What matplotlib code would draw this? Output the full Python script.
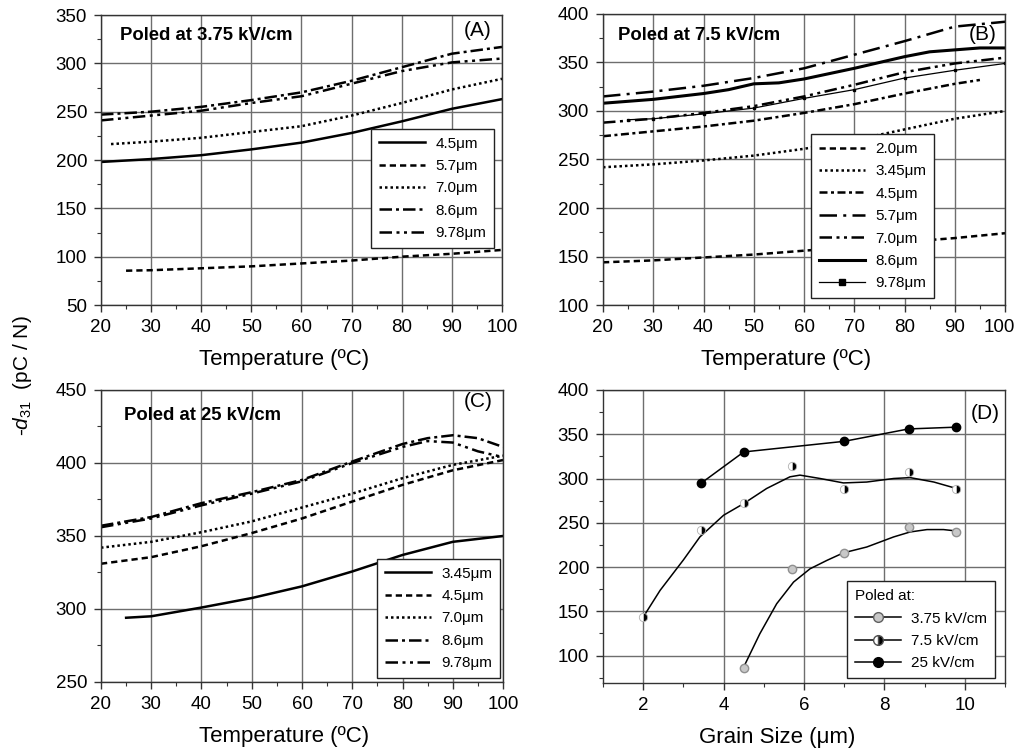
import matplotlib
matplotlib.use('Agg')
import matplotlib.pyplot as plt
import matplotlib.transforms as mtransforms
from matplotlib.ticker import MultipleLocator

plt.rcParams['font.family'] = ['Liberation Sans', 'DejaVu Sans']
plt.rcParams['mathtext.fontset'] = 'custom'
plt.rcParams['mathtext.it'] = 'Liberation Sans:italic'
plt.rcParams['mathtext.rm'] = 'Liberation Sans'

# --- Panel A: poled at 3.75 kV/cm ---
temp = [20, 30, 40, 50, 60, 70, 80, 90, 100]
a_45 = [198, 201, 205, 211, 218, 228, 240, 253, 263]
a_57_t = [25, 30, 40, 50, 60, 70, 80, 90, 100]
a_57 = [85.5, 86, 88, 90, 93, 96, 100, 103, 107]
a_70_t = [22, 30, 40, 50, 60, 70, 80, 90, 100]
a_70 = [216.5, 219, 223, 229, 235, 246, 259, 273, 284]
a_86 = [247, 250, 255, 262, 270, 282, 296, 310, 317]
a_978 = [241, 246, 251, 259, 266, 279, 292, 301, 305]

# --- Panel B: poled at 7.5 kV/cm ---
b_20 = [144, 146, 149, 152, 156, 160, 165, 169, 174]
b_345 = [242, 245, 249, 254, 261, 270, 281, 292, 300]
b_45_t = [20, 30, 40, 50, 60, 70, 80, 90, 95]
b_45 = [274, 279, 284, 290, 298, 307, 318, 328, 332]
b_57 = [315, 320, 326, 334, 344, 358, 372, 387, 392]
b_70 = [288, 292, 298, 305, 315, 327, 340, 349, 355]
b_86_t = [20, 30, 40, 45, 50, 55, 60, 70, 80, 85, 90, 95, 100]
b_86 = [308, 312, 318, 322, 328, 329, 333, 344, 356, 361, 363, 365, 365]
b_978_t = [25, 30, 40, 50, 60, 70, 80, 90, 100]
b_978 = [291, 292, 297, 303, 313, 322, 334, 342, 349]

# --- Panel C: poled at 25 kV/cm ---
c_345_t = [25, 30, 40, 50, 60, 70, 80, 90, 100]
c_345 = [294, 295, 301, 307.5, 315.5, 325.7, 337, 346, 350]
c_45 = [331, 335.5, 343, 352, 362, 373.6, 385, 395, 402]
c_70 = [342, 346, 352.6, 360, 369.5, 379, 389.6, 398.7, 405]
c_86_t = [20, 30, 40, 50, 60, 70, 80, 85, 90, 95, 100]
c_86 = [357, 363, 372.5, 380, 388.4, 401, 413, 417, 419, 417, 411]
c_978_t = [20, 30, 40, 50, 60, 70, 80, 85, 90, 95, 100]
c_978 = [356, 362, 371, 379, 387.5, 400, 411, 415, 414, 408, 404]

# --- Panel D: d31 vs grain size ---
g_375 = [4.5, 5.7, 7.0, 8.6, 9.78]
d_375 = [86, 198, 216, 245, 240]
g_75 = [2.0, 3.45, 4.5, 5.7, 7.0, 8.6, 9.78]
d_75 = [144, 242, 272, 314, 288, 307, 288]
g_25 = [3.45, 4.5, 7.0, 8.6, 9.78]
d_25 = [295, 330, 342, 356, 358]
# smoothed fit curves as drawn in the figure
fit_375_x = [4.5, 4.9, 5.32, 5.74, 6.15, 6.57, 6.98, 7.56, 8.23, 8.64, 9.06, 9.47, 9.77]
fit_375_y = [87, 124.5, 158.5, 183, 198, 207.5, 216, 222.6, 234, 239.6, 242.3, 242.3, 240.8]
fit_75_x = [2.0, 2.42, 3.0, 3.41, 4.0, 4.5, 5.07, 5.65, 5.9, 6.4, 6.98, 7.56, 8.23, 8.64, 9.23, 9.77]
fit_75_y = [143.4, 173.6, 208, 234, 258.5, 271.7, 288.7, 301.9, 303.8, 300, 295, 296, 300, 301, 296, 289]

DASH = (0, (2.5, 1.6))
DOT = (0, (1, 1.2))
DASHDOT = (0, (5, 1.6, 1.2, 1.6))
DASHDOTDOT = (0, (5, 1.8, 1.2, 1.8, 1.2, 1.8))
DASHDOT_SHORT = (0, (3.2, 1.4, 1.2, 1.4))
DASHDOT_LONG = (0, (7, 2.5, 1.2, 2.5))

fig = plt.figure(figsize=(10.16, 7.52), dpi=100)
axA = fig.add_axes([0.0994, 0.5944, 0.3947, 0.3856])
axB = fig.add_axes([0.5935, 0.5944, 0.3957, 0.3870])
axC = fig.add_axes([0.0994, 0.0931, 0.3957, 0.3883])
axD = fig.add_axes([0.5935, 0.0918, 0.3957, 0.3896])

lw = 1.8
k = 'black'

axA.plot(temp, a_45, color=k, lw=lw, label='4.5\u03bcm')
axA.plot(a_57_t, a_57, color=k, lw=lw, ls=DASH, label='5.7\u03bcm')
axA.plot(a_70_t, a_70, color=k, lw=lw, ls=DOT, label='7.0\u03bcm')
axA.plot(temp, a_86, color=k, lw=lw, ls=DASHDOT, label='8.6\u03bcm')
axA.plot(temp, a_978, color=k, lw=lw, ls=DASHDOTDOT, label='9.78\u03bcm')

axB.plot(temp, b_20, color=k, lw=lw, ls=DASH, label='2.0\u03bcm')
axB.plot(temp, b_345, color=k, lw=lw, ls=DOT, label='3.45\u03bcm')
axB.plot(b_45_t, b_45, color=k, lw=lw, ls=DASHDOT_SHORT, label='4.5\u03bcm')
axB.plot(temp, b_57, color=k, lw=lw, ls=DASHDOT_LONG, label='5.7\u03bcm')
axB.plot(temp, b_70, color=k, lw=lw, ls=DASHDOTDOT, label='7.0\u03bcm')
axB.plot(b_86_t, b_86, color=k, lw=2.2, label='8.6\u03bcm')
axB.plot(b_978_t, b_978, color=k, lw=0.9, marker='s', ms=2, label='9.78\u03bcm')

axC.plot(c_345_t, c_345, color=k, lw=lw, label='3.45\u03bcm')
axC.plot(temp, c_45, color=k, lw=lw, ls=DASH, label='4.5\u03bcm')
axC.plot(temp, c_70, color=k, lw=lw, ls=DOT, label='7.0\u03bcm')
axC.plot(c_86_t, c_86, color=k, lw=lw, ls=DASHDOT, label='8.6\u03bcm')
axC.plot(c_978_t, c_978, color=k, lw=lw, ls=DASHDOTDOT, label='9.78\u03bcm')

# panel D: fit lines + markers
axD.plot(fit_375_x, fit_375_y, color=k, lw=1.1, zorder=2)
axD.plot(fit_75_x, fit_75_y, color=k, lw=1.1, zorder=2)
axD.plot(g_25, d_25, color=k, lw=1.1, zorder=2)
axD.plot(g_375, d_375, ls='none', marker='o', ms=6, mfc='#c8c8c8', mec='#909090', zorder=3)
axD.plot(g_75, d_75, ls='none', marker='o', ms=6, fillstyle='right', mfc='black',
         mfcalt='white', mec='#b0b0b0', mew=0.6, zorder=3)
axD.plot(g_25, d_25, ls='none', marker='o', ms=6, mfc='black', mec='black', zorder=3)
# legend proxies
axD.plot([], [], color=k, lw=1.1, marker='o', ms=7, mfc='#c8c8c8', mec='#606060', label='3.75 kV/cm')
axD.plot([], [], color=k, lw=1.1, marker='o', ms=7, fillstyle='right', mfc='black',
         mfcalt='white', mec='#505050', label='7.5 kV/cm')
axD.plot([], [], color=k, lw=1.1, marker='o', ms=7, mfc='black', mec='black', label='25 kV/cm')

for ax in (axA, axB, axC):
    ax.set_xlim(20, 100)
    ax.xaxis.set_major_locator(MultipleLocator(10))
    ax.xaxis.set_minor_locator(MultipleLocator(5))
    ax.yaxis.set_major_locator(MultipleLocator(50))
    ax.yaxis.set_minor_locator(MultipleLocator(25))
    ax.set_xlabel('Temperature (\u00baC)', fontsize=16)
    ax.xaxis.set_label_coords(0.456, -0.15)

axA.set_ylim(50, 350)
axB.set_ylim(100, 400)
axC.set_ylim(250, 450)
axD.set_xlim(1, 11)
axD.set_ylim(69, 400)
axD.set_xticks([2, 4, 6, 8, 10])
axD.xaxis.set_minor_locator(MultipleLocator(1))
axD.yaxis.set_major_locator(MultipleLocator(50))
axD.yaxis.set_minor_locator(MultipleLocator(25))
axD.set_xlabel('Grain Size (\u03bcm)', fontsize=16)
axD.xaxis.set_label_coords(0.433, -0.15)

for ax in (axA, axB, axC, axD):
    ax.grid(True, which='major', color='#6e6e6e', lw=1.0)
    ax.set_axisbelow(True)
    ax.tick_params(which='major', direction='out', length=5, width=1, labelsize=13.5,
                   color='#333333', pad=5)
    ax.tick_params(which='minor', direction='out', length=3, width=0.8, color='#333333')
    for s in ax.spines.values():
        s.set_color('#333333')
        s.set_linewidth(1.0)

# keep the last tick label of panel B inside the figure
fig.canvas.draw()
for t in axB.xaxis.get_major_ticks():
    if abs(t.get_loc() - 100) < 1e-6:
        t.label1.set_transform(t.label1.get_transform() +
                               mtransforms.ScaledTranslation(-6 / 100, 0, fig.dpi_scale_trans))

leg_kw = dict(fontsize=11, frameon=True, fancybox=False, edgecolor='#222222',
              borderaxespad=0, handlelength=3.0, handletextpad=0.7, labelspacing=0.55,
              borderpad=0.5)
lA = axA.legend(loc='lower right', bbox_to_anchor=(0.98, 0.197), **leg_kw)
lB = axB.legend(loc='lower right', bbox_to_anchor=(0.823, 0.024), **leg_kw)
lC = axC.legend(loc='lower right', bbox_to_anchor=(0.993, 0.014), **leg_kw)
lD = axD.legend(loc='lower right', bbox_to_anchor=(0.975, 0.017), title='Poled at:',
                title_fontsize=11, alignment='left', **leg_kw)
lB.legend_handles[-1].set_markersize(5)
for lg in (lA, lB, lC, lD):
    lg.get_frame().set_linewidth(1.0)
    lg.get_frame().set_alpha(1)

axA.text(0.047, 0.931, 'Poled at 3.75 kV/cm', transform=axA.transAxes, fontsize=13.3,
         fontweight='bold', va='center', ha='left')
axB.text(0.037, 0.925, 'Poled at 7.5 kV/cm', transform=axB.transAxes, fontsize=13.3,
         fontweight='bold', va='center', ha='left')
axC.text(0.057, 0.914, 'Poled at 25 kV/cm', transform=axC.transAxes, fontsize=13.3,
         fontweight='bold', va='center', ha='left')
for ax, lab, x, y in ((axA, '(A)', 0.975, 0.948), (axB, '(B)', 0.98, 0.928),
                      (axC, '(C)', 0.973, 0.96), (axD, '(D)', 0.988, 0.92)):
    ax.text(x, y, lab, transform=ax.transAxes, fontsize=15, ha='right', va='center')

fig.text(0.022, 0.5, r'-$d_{31}$  (pC / N)', rotation=90, fontsize=15, ha='center', va='center')

fig.savefig('out.png', dpi=100)
